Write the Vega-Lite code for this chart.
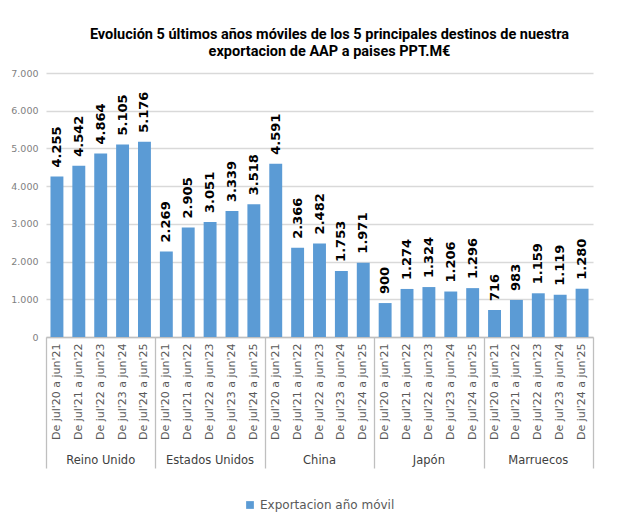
{
  "$schema": "https://vega.github.io/schema/vega-lite/v6.json",
  "autosize": "none",
  "width": 547,
  "height": 264,
  "padding": {"left": 46, "top": 73, "right": 39, "bottom": 176},
  "background": "white",
  "title": {
    "text": ["Evolución  5 últimos años móviles de los 5 principales  destinos de nuestra", "exportacion de AAP a paises PPT.M€"],
    "font": "Roboto",
    "fontSize": 14.5,
    "fontWeight": "bold",
    "color": "#000000",
    "anchor": "middle",
    "dx": 10,
    "offset": 9,
    "lineHeight": 17
  },
  "data": {
    "values": [
      {"cat": "Reino Unido|De jul'20 a jun'21", "value": 4255},
      {"cat": "Reino Unido|De jul'21 a jun'22", "value": 4542},
      {"cat": "Reino Unido|De jul'22 a jun'23", "value": 4864},
      {"cat": "Reino Unido|De jul'23 a jun'24", "value": 5105},
      {"cat": "Reino Unido|De jul'24 a jun'25", "value": 5176},
      {"cat": "Estados Unidos|De jul'20 a jun'21", "value": 2269},
      {"cat": "Estados Unidos|De jul'21 a jun'22", "value": 2905},
      {"cat": "Estados Unidos|De jul'22 a jun'23", "value": 3051},
      {"cat": "Estados Unidos|De jul'23 a jun'24", "value": 3339},
      {"cat": "Estados Unidos|De jul'24 a jun'25", "value": 3518},
      {"cat": "China|De jul'20 a jun'21", "value": 4591},
      {"cat": "China|De jul'21 a jun'22", "value": 2366},
      {"cat": "China|De jul'22 a jun'23", "value": 2482},
      {"cat": "China|De jul'23 a jun'24", "value": 1753},
      {"cat": "China|De jul'24 a jun'25", "value": 1971},
      {"cat": "Japón|De jul'20 a jun'21", "value": 900},
      {"cat": "Japón|De jul'21 a jun'22", "value": 1274},
      {"cat": "Japón|De jul'22 a jun'23", "value": 1324},
      {"cat": "Japón|De jul'23 a jun'24", "value": 1206},
      {"cat": "Japón|De jul'24 a jun'25", "value": 1296},
      {"cat": "Marruecos|De jul'20 a jun'21", "value": 716},
      {"cat": "Marruecos|De jul'21 a jun'22", "value": 983},
      {"cat": "Marruecos|De jul'22 a jun'23", "value": 1159},
      {"cat": "Marruecos|De jul'23 a jun'24", "value": 1119},
      {"cat": "Marruecos|De jul'24 a jun'25", "value": 1280}
    ]
  },
  "resolve": {"axis": {"x": "independent"}},
  "encoding": {
    "y": {
      "field": "value", "type": "quantitative",
      "scale": {"domain": [0, 7000], "nice": false},
      "axis": {
        "title": null, "values": [0, 1000, 2000, 3000, 4000, 5000, 6000, 7000],
        "format": ",.0f", "domain": false, "ticks": false,
        "grid": true, "gridColor": "#D9D9D9", "gridWidth": 1.5,
        "labelFont": "DejaVu Sans", "labelFontSize": 9.5, "labelColor": "#7F7F7F",
        "labelPadding": 8
      }
    }
  },
  "layer": [
    {
      "mark": {"type": "bar", "color": "#5B9BD5"},
      "encoding": {
        "x": {
          "field": "cat", "type": "nominal", "sort": null,
          "scale": {"paddingInner": 0.41, "paddingOuter": 0.205},
          "axis": {
            "orient": "bottom", "title": null,
            "labelExpr": "split(datum.value, '|')[1]",
            "labelAngle": -90, "labelAlign": "right", "labelBaseline": "middle",
            "labelFont": "DejaVu Sans", "labelFontSize": 11, "labelColor": "#595959",
            "labelPadding": 6, "labelOverlap": false, "labelLimit": 0,
            "ticks": false, "domain": true, "domainColor": "#BFBFBF", "domainWidth": 1.3
          }
        },
        "color": {
          "datum": "Exportacion año móvil", "type": "nominal",
          "scale": {"range": ["#5B9BD5"]},
          "legend": {
            "title": null, "orient": "bottom", "symbolType": "square", "symbolSize": 60,
            "labelFont": "DejaVu Sans", "labelFontSize": 12, "labelColor": "#595959",
            "offset": 30
          }
        }
      }
    },
    {
      "mark": {"type": "text", "angle": 270, "align": "left", "baseline": "middle", "dx": 9, "font": "DejaVu Sans", "fontSize": 13, "fontWeight": "bold", "color": "#000000"},
      "encoding": {
        "x": {
          "field": "cat", "type": "nominal", "sort": null,
          "axis": {
            "orient": "bottom", "title": null,
            "values": ["Reino Unido|De jul'22 a jun'23", "Estados Unidos|De jul'22 a jun'23", "China|De jul'22 a jun'23", "Japón|De jul'22 a jun'23", "Marruecos|De jul'22 a jun'23"],
            "labelExpr": "split(datum.value, '|')[0]",
            "labelAngle": 0, "labelAlign": "center", "labelBaseline": "top",
            "labelFont": "DejaVu Sans", "labelFontSize": 11.5, "labelColor": "#404040",
            "labelPadding": 117, "labelOverlap": false, "labelLimit": 0,
            "ticks": false, "domain": false
          }
        },
        "text": {"field": "value", "type": "quantitative", "format": ",.0f"}
      }
    },
    {
      "mark": {"type": "bar", "opacity": 0},
      "encoding": {
        "x": {
          "field": "cat", "type": "nominal", "sort": null,
          "axis": {
            "orient": "bottom", "title": null,
            "values": ["Reino Unido|De jul'20 a jun'21", "Estados Unidos|De jul'20 a jun'21", "China|De jul'20 a jun'21", "Japón|De jul'20 a jun'21", "Marruecos|De jul'20 a jun'21"],
            "bandPosition": 0, "tickOffset": -4.5, "tickExtra": false,
            "ticks": true, "tickSize": 131, "tickColor": "#BFBFBF", "tickWidth": 1.3,
            "labels": false, "domain": false
          }
        }
      }
    },
    {
      "mark": {"type": "bar", "opacity": 0},
      "encoding": {
        "x": {
          "field": "cat", "type": "nominal", "sort": null,
          "axis": {
            "orient": "bottom", "title": null,
            "values": ["Marruecos|De jul'24 a jun'25"],
            "bandPosition": 1, "tickOffset": 4.5, "tickExtra": false,
            "ticks": true, "tickSize": 131, "tickColor": "#BFBFBF", "tickWidth": 1.3,
            "labels": false, "domain": false
          }
        }
      }
    }
  ],
  "config": {
    "locale": {"number": {"decimal": ",", "thousands": ".", "grouping": [3], "currency": ["", " €"]}},
    "view": {"stroke": null},
    "legend": {"layout": {"bottom": {"anchor": "middle"}}}
  }
}
